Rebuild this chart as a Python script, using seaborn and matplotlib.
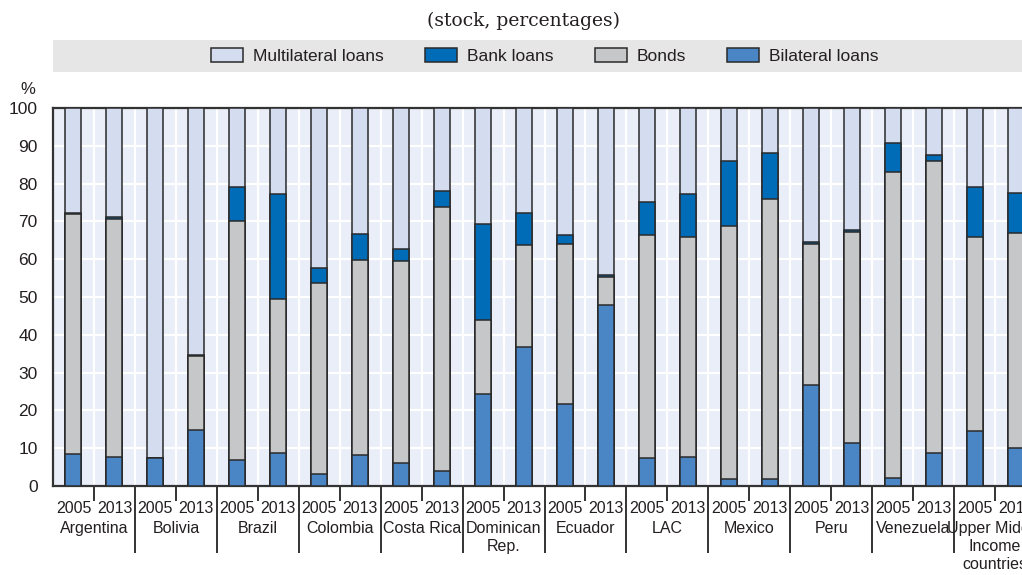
import numpy as np
import pandas as pd
import matplotlib
matplotlib.use("Agg")
import matplotlib.pyplot as plt
import seaborn as sns
from matplotlib.patches import Patch, Rectangle

# ---- data: shares of the debt stock (%) by creditor type ----
countries = ["Argentina", "Bolivia", "Brazil", "Colombia", "Costa Rica",
             "Dominican\nRep.", "Ecuador", "LAC", "Mexico", "Peru",
             "Venezuela", "Upper Middle\nIncome\ncountries"]
years = ["2005", "2013"]

# one value per (country, year), ordered country by country, 2005 then 2013
bilateral = [8.5, 7.6, 7.5, 14.8, 6.9, 8.8, 3.2, 8.2, 6.2, 4.0, 24.4, 36.7,
             21.7, 47.9, 7.5, 7.8, 1.9, 1.8, 26.6, 11.5, 2.1, 8.7, 14.6, 10.0]
bonds = [63.4, 63.0, 0.0, 19.5, 63.1, 40.7, 50.6, 51.5, 53.2, 69.8, 19.4, 27.0,
         42.3, 7.3, 59.0, 58.2, 66.8, 74.1, 37.5, 55.7, 80.9, 77.2, 51.4, 56.8]
bank = [0.3, 0.6, 0.0, 0.3, 9.0, 27.7, 3.8, 6.9, 3.2, 4.3, 25.6, 8.6,
        2.3, 0.7, 8.7, 11.3, 17.2, 12.3, 0.4, 0.4, 7.8, 1.7, 13.1, 10.7]
multilateral = [27.8, 28.8, 92.5, 65.4, 21.0, 22.8, 42.4, 33.4, 37.4, 21.9, 30.6, 27.7,
                33.7, 44.1, 24.8, 22.7, 14.1, 11.8, 35.5, 32.4, 9.2, 12.4, 20.9, 22.5]

series_names = ["Multilateral loans", "Bank loans", "Bonds", "Bilateral loans"]
colors = {"Multilateral loans": "#d4ddef", "Bank loans": "#006bb6",
          "Bonds": "#c6c7c9", "Bilateral loans": "#4a86c6"}

TEXT = "#231f20"
EDGE = "#2a2a2a"

sns.set_theme(style="darkgrid")
plt.rcParams["font.family"] = ["Liberation Sans", "DejaVu Sans"]
plt.rcParams["text.color"] = TEXT

slots = [f"{c.replace(chr(10), ' ')} {y}" for c in countries for y in years]
df = pd.DataFrame({
    "slot": slots,
    "Bilateral loans": bilateral,
    "Bonds": bonds,
    "Bank loans": bank,
    "Multilateral loans": multilateral,
})
# cumulative tops of the stack, bottom to top: bilateral, bonds, bank, multilateral
stack_order = ["Bilateral loans", "Bonds", "Bank loans", "Multilateral loans"]
tops = df[stack_order].cumsum(axis=1)

fig = plt.figure(figsize=(10.22, 5.75), dpi=100)
ax = fig.add_axes([53 / 1022, 1 - 486 / 575, 983 / 1022, 378 / 575])
ax.set_facecolor("#e9eef8")

# draw the tallest layer first so each lower layer sits on top of it
for name in reversed(stack_order):
    plot_df = pd.DataFrame({"slot": slots, "top": tops[name].values})
    sns.barplot(data=plot_df, x="slot", y="top", order=slots, color=colors[name],
                saturation=1, width=0.39, edgecolor=EDGE, linewidth=1.1,
                errorbar=None, ax=ax, zorder=3)

n = len(slots)
ax.set_xlim(-0.5, n - 0.5)
ax.set_ylim(0, 100)
ax.set_xlabel("")
ax.set_ylabel("")

# y axis
ax.set_yticks(np.arange(0, 101, 10))
ax.tick_params(axis="y", length=0, pad=11, labelsize=12.5, labelcolor=TEXT)

# x axis: long ticks between countries, short ticks between years
group_edges = np.arange(1.5, n - 1, 2)
year_edges = np.arange(0.5, n, 2)
ax.set_xticks(group_edges)
ax.set_xticks(year_edges, minor=True)
ax.set_xticklabels([])
ax.tick_params(axis="x", which="major", length=48, width=1.4, color="#333333",
               direction="out", bottom=True)
ax.tick_params(axis="x", which="minor", length=11, width=1.4, color="#333333",
               direction="out", bottom=True)

ax.grid(True, axis="y", which="major", color="white", linewidth=1.6)
ax.grid(True, axis="x", which="both", color="white", linewidth=1.6)
ax.set_axisbelow(True)

for side in ["top", "left", "bottom", "right"]:
    ax.spines[side].set_visible(True)
    ax.spines[side].set_color("#333333")
    ax.spines[side].set_linewidth(1.6)

# year labels under each bar, country names under each pair
for i, s in enumerate(slots):
    ax.annotate(years[i % 2], xy=(i, 0), xycoords=("data", "axes fraction"),
                xytext=(0, -11), textcoords="offset points",
                ha="center", va="top", fontsize=11.5, color=TEXT)
for g, c in enumerate(countries):
    ax.annotate(c, xy=(2 * g + 0.5, 0), xycoords=("data", "axes fraction"),
                xytext=(0, -25.5), textcoords="offset points",
                ha="center", va="top", fontsize=11.5, color=TEXT,
                linespacing=1.25)

# unit label above the y axis
fig.text(28 / 1022, 1 - 89 / 575, "%", ha="center", va="center",
         fontsize=12, color=TEXT)

# subtitle
fig.text(523 / 1022, 1 - 21 / 575, "(stock, percentages)", ha="center",
         va="center", fontsize=13.5, color=TEXT, family="DejaVu Serif")

# legend band
fig.patches.append(Rectangle((53 / 1022, 1 - 72 / 575), 1.0, 32 / 575,
                             transform=fig.transFigure, facecolor="#e6e6e7",
                             edgecolor="none", zorder=0))
handles = [Patch(facecolor=colors[nm], edgecolor=EDGE, linewidth=1.1)
           for nm in series_names]
fig.legend(handles, series_names, loc="center", ncol=4,
           bbox_to_anchor=(545 / 1022, 1 - 56 / 575), frameon=False,
           fontsize=12.5, handlelength=1.84, handleheight=0.86,
           handletextpad=0.58, columnspacing=2.36, borderpad=0)

fig.savefig("out.png", dpi=100)
